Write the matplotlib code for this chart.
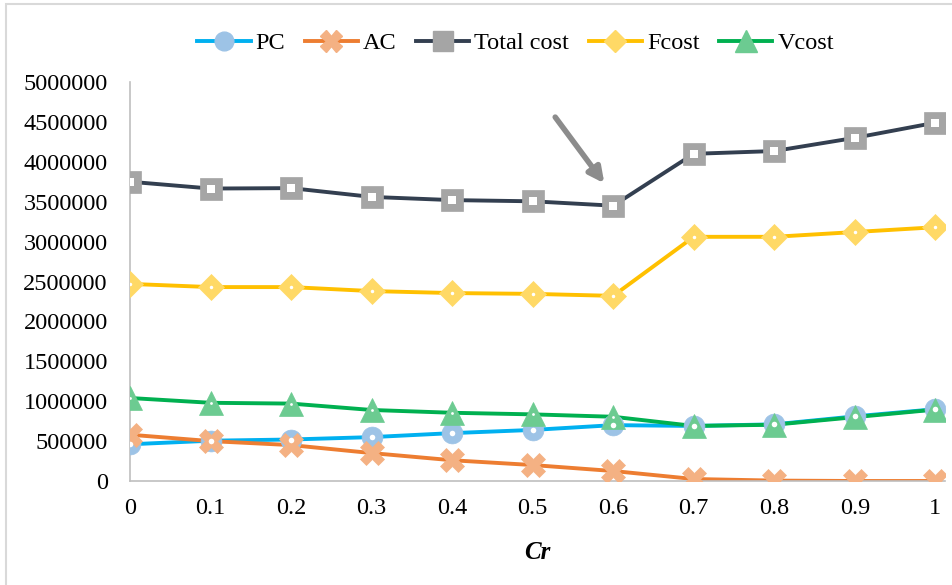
import matplotlib
matplotlib.use("Agg")
import matplotlib.pyplot as plt
from matplotlib.lines import Line2D
from matplotlib.patches import Rectangle

plt.rcParams['font.family'] = ['Liberation Serif', 'DejaVu Serif']

cr = [0, 0.1, 0.2, 0.3, 0.4, 0.5, 0.6, 0.7, 0.8, 0.9, 1]
x_labels = ['0', '0.1', '0.2', '0.3', '0.4', '0.5', '0.6', '0.7', '0.8', '0.9', '1']

pc = [460000, 505000, 520000, 550000, 600000, 640000, 700000, 690000, 710000, 810000, 900000]
ac = [580000, 500000, 450000, 350000, 260000, 200000, 125000, 25000, 5000, 0, 0]
total_cost = [3750000, 3665000, 3670000, 3560000, 3520000, 3505000, 3450000, 4100000, 4135000, 4300000, 4490000]
fcost = [2470000, 2430000, 2430000, 2380000, 2355000, 2345000, 2320000, 3060000, 3060000, 3120000, 3180000]
vcost = [1040000, 980000, 970000, 890000, 855000, 835000, 805000, 690000, 705000, 800000, 895000]

y_ticks = [0, 500000, 1000000, 1500000, 2000000, 2500000, 3000000, 3500000, 4000000, 4500000, 5000000]

# (name, values, line colour, marker, marker fill, inner dot marker, inner dot size, marker size)
series = [
    ('PC', pc, '#00B0F0', 'o', '#9DC3E6', 'o', 4, 15),
    ('AC', ac, '#ED7D31', 'X', '#F4B183', None, 0, 17),
    ('Total cost', total_cost, '#333F50', 's', '#A5A5A5', 's', 6, 16),
    ('Fcost', fcost, '#FFC000', 'D', '#FFD966', 'o', 2.5, 13),
    ('Vcost', vcost, '#00B050', '^', '#6CCB91', 'o', 2, 17),
]

fig = plt.figure(figsize=(9.53, 5.85), dpi=100)
ax = fig.add_axes([130 / 953, 1 - 481 / 585, 815 / 953, 399 / 585])

handles = []
for name, vals, lc, mk, mfc, inner, isz, msz in series:
    ax.plot(cr, vals, color=lc, lw=2.8, zorder=2)
    ax.plot(cr, vals, ls='none', marker=mk, ms=msz, mfc=mfc, mec=mfc, mew=0.5, zorder=3)
    if inner:
        ax.plot(cr, vals, ls='none', marker=inner, ms=isz, mfc='white', mec='white', mew=0, zorder=4)
    handles.append(Line2D([], [], color=lc, lw=2.8, marker=mk, ms=msz * 0.9, mfc=mfc, mec=mfc))

ax.set_xlim(0, 1.012)
ax.set_ylim(0, 5000000)
ax.set_xticks(cr)
ax.set_xticklabels(x_labels)
ax.set_yticks(y_ticks)
ax.set_yticklabels([str(v) for v in y_ticks])
ax.tick_params(axis='both', length=0, labelsize=17.5, colors='black')
ax.tick_params(axis='x', pad=12)
ax.tick_params(axis='y', pad=16)
for side in ('top', 'right'):
    ax.spines[side].set_visible(False)
for side in ('left', 'bottom'):
    ax.spines[side].set_color('#BFBFBF')
    ax.spines[side].set_linewidth(1.2)

ax.set_xlabel('Cr', fontsize=18, fontweight='bold', fontstyle='italic', labelpad=16)

ax.annotate('', xy=(0.589, 3730000), xytext=(0.528, 4560000),
            arrowprops=dict(arrowstyle='-|>,head_length=0.9,head_width=0.45',
                            color='#8C8C8C', lw=4, shrinkA=0, shrinkB=0))

fig.legend(handles, [s[0] for s in series], loc='center', bbox_to_anchor=(0.541, 1 - 43 / 585),
           ncol=5, frameon=False, fontsize=17.5, handlelength=2.2, handletextpad=0.2,
           columnspacing=0.8)

fig.patches.append(Rectangle((6 / 953, -0.05), 1.1, 1 - 4 / 585 + 0.05, transform=fig.transFigure,
                             fill=False, edgecolor='#D9D9D9', lw=1.5, zorder=0))

fig.savefig('out.png', dpi=100)
